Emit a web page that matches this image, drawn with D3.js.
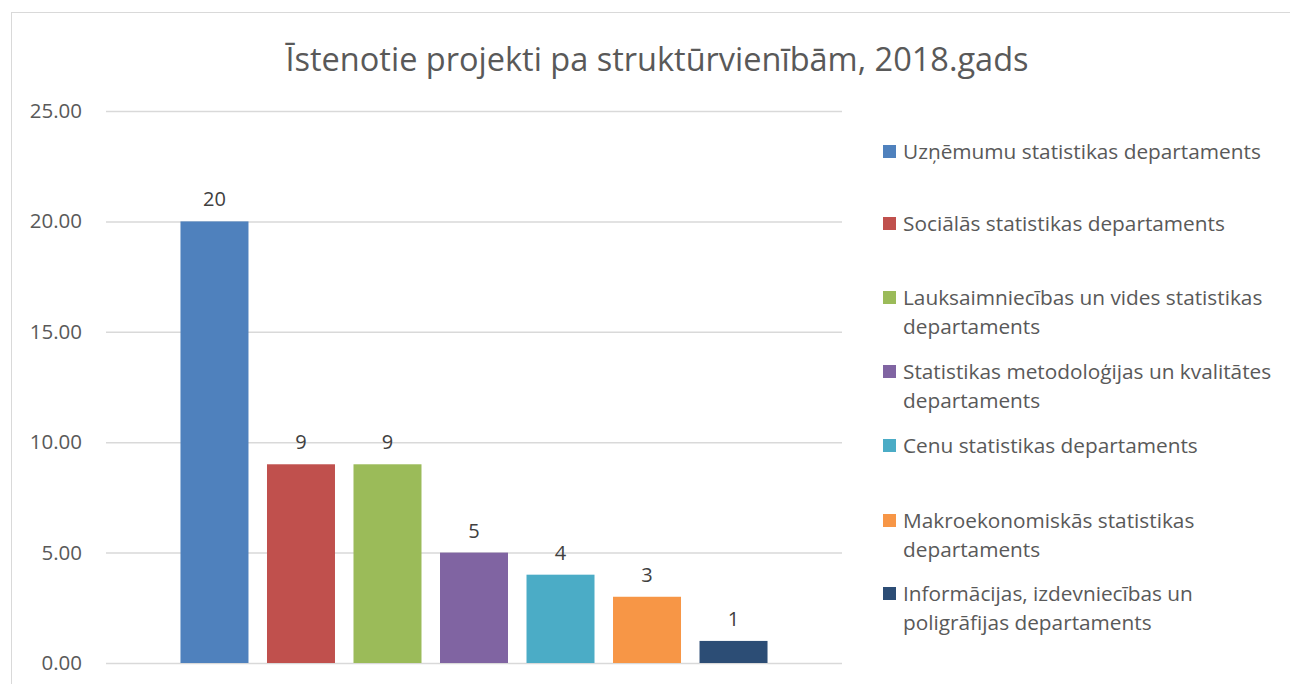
<!DOCTYPE html>
<html>
<head>
<meta charset="utf-8">
<script src="https://cdn.jsdelivr.net/npm/d3@7"></script>
<style>
  body { margin: 0; background: #fff; }
  svg { display: block; font-family: "Open Sans", "Noto Sans", sans-serif; }
</style>
</head>
<body>
<div id="chart"></div>
<script>
// dati
const departments = [
  "Uzņēmumu statistikas departaments",
  "Sociālās statistikas departaments",
  "Lauksaimniecības un vides statistikas departaments",
  "Statistikas metodoloģijas un kvalitātes departaments",
  "Cenu statistikas departaments",
  "Makroekonomiskās statistikas departaments",
  "Informācijas, izdevniecības un poligrāfijas departaments"
];
const projects = [20, 9, 9, 5, 4, 3, 1];
const legendLines = [
  ["Uzņēmumu statistikas departaments"],
  ["Sociālās statistikas departaments"],
  ["Lauksaimniecības un vides statistikas", "departaments"],
  ["Statistikas metodoloģijas un kvalitātes", "departaments"],
  ["Cenu statistikas departaments"],
  ["Makroekonomiskās statistikas", "departaments"],
  ["Informācijas, izdevniecības un", "poligrāfijas departaments"]
];
const yTicks = [0, 5, 10, 15, 20, 25];
const colors = ["#4f81bd", "#c0504d", "#9bbb59", "#8064a2", "#4bacc6", "#f79646", "#2c4d75"];

const width = 1290, height = 684;
const [mt, mr, mb, ml] = [111, 448, 21, 106];

const svg = d3.select("#chart").append("svg")
  .attr("width", width)
  .attr("height", height);

// rāmis
svg.append("rect")
  .attr("x", 11.5).attr("y", 12.5)
  .attr("width", width + 10).attr("height", height + 10)
  .attr("fill", "none")
  .attr("stroke", "#d9d9d9");

svg.append("text")
  .attr("x", 657).attr("y", 71)
  .attr("text-anchor", "middle")
  .attr("fill", "#595959")
  .style("font-size", "32.5px")
  .text("Īstenotie projekti pa struktūrvienībām, 2018.gads");

const y = d3.scaleLinear()
  .domain([0, 25])
  .range([height - mb, mt]);

const x = d3.scaleBand()
  .domain(departments)
  .range([ml, width - mr])
  .paddingInner(0.214)
  .paddingOuter(0.861);

// režģis un ass
const yAxis = d3.axisLeft(y)
  .tickValues(yTicks)
  .tickFormat(d3.format(".2f"))
  .tickSize(-(width - mr - ml))
  .tickPadding(24);

svg.append("g")
  .attr("transform", `translate(${ml},0)`)
  .call(yAxis)
  .call(g => g.select(".domain").remove())
  .call(g => g.selectAll(".tick line").attr("stroke", "#d9d9d9").attr("stroke-width", 1.5))
  .call(g => g.selectAll(".tick text")
    .attr("fill", "#595959")
    .style("font-size", "20.5px")
    .style("font-family", "'Open Sans', sans-serif"));

// stabiņi
svg.append("g")
  .selectAll("rect")
  .data(departments)
  .join("rect")
  .attr("x", d => x(d))
  .attr("y", (d, i) => y(projects[i]))
  .attr("width", x.bandwidth())
  .attr("height", (d, i) => y(0) - y(projects[i]))
  .attr("fill", (d, i) => colors[i]);

// vērtību etiķetes
svg.append("g")
  .selectAll("text")
  .data(departments)
  .join("text")
  .attr("x", d => x(d) + x.bandwidth() / 2)
  .attr("y", (d, i) => y(projects[i]) - 15)
  .attr("text-anchor", "middle")
  .attr("fill", "#404040")
  .style("font-size", "20px")
  .text((d, i) => projects[i]);

// leģenda
const legendY = [152, 224, 298, 372, 446, 521, 594];
const legend = svg.append("g")
  .selectAll("g")
  .data(departments)
  .join("g")
  .attr("transform", (d, i) => `translate(883,${legendY[i]})`);

legend.append("rect")
  .attr("x", 0).attr("y", -7)
  .attr("width", 13).attr("height", 13)
  .attr("fill", (d, i) => colors[i]);

legend.append("text")
  .attr("x", 20)
  .attr("y", 7)
  .attr("fill", "#595959")
  .style("font-size", "20.8px")
  .each(function (d, i) {
    d3.select(this).selectAll("tspan")
      .data(legendLines[i])
      .join("tspan")
      .attr("x", 20)
      .attr("dy", (t, j) => j === 0 ? 0 : 29)
      .text(t => t);
  });
</script>
</body>
</html>
